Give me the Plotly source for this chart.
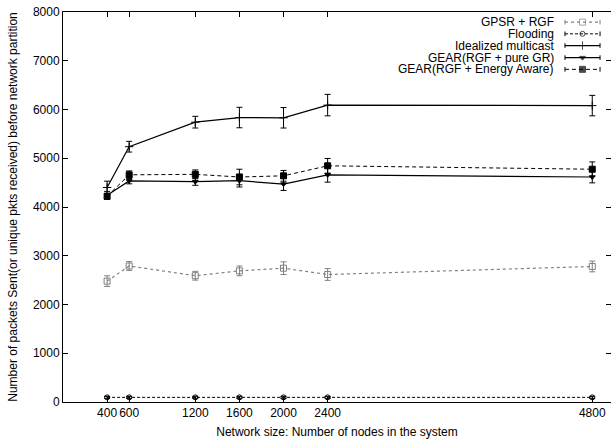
import plotly.graph_objects as go

nodes = [400, 600, 1200, 1600, 2000, 2400, 4800]

gpsr_rgf = [2480, 2790, 2590, 2690, 2745, 2615, 2780]
gpsr_rgf_err = [110, 90, 90, 100, 130, 120, 110]

flooding = [95, 95, 95, 95, 95, 95, 95]
flooding_err = [20, 20, 20, 20, 20, 20, 20]

idealized = [4400, 5237, 5740, 5835, 5830, 6090, 6080]
idealized_err = [130, 110, 120, 210, 210, 220, 210]

gear_pure = [4240, 4535, 4520, 4540, 4470, 4660, 4615]
gear_pure_err = [80, 60, 75, 130, 130, 150, 120]

gear_energy = [4220, 4660, 4670, 4615, 4640, 4845, 4775]
gear_energy_err = [60, 80, 90, 160, 110, 150, 150]

series_names = ["GPSR + RGF", "Flooding", "Idealized multicast",
                "GEAR(RGF + pure GR)", "GEAR(RGF + Energy Aware)"]

FONT = "Liberation Sans, Arial, sans-serif"
FS = 12

styles = [
    dict(color="#808080", dash="dot", symbol="square-open", size=6, width=1.2),
    dict(color="#000000", dash="3px,2px", symbol="circle-open", size=5, width=1),
    dict(color="#000000", dash="solid", symbol="cross-thin", size=6, width=1.2),
    dict(color="#000000", dash="solid", symbol="triangle-down", size=5, width=1.2),
    dict(color="#000000", dash="4px,3px", symbol="square", size=6, width=1),
]
values = [gpsr_rgf, flooding, idealized, gear_pure, gear_energy]
errors = [gpsr_rgf_err, flooding_err, idealized_err, gear_pure_err, gear_energy_err]

fig = go.Figure()

for name, vals, errs, st in zip(series_names, values, errors, styles):
    fig.add_trace(go.Scatter(
        x=nodes, y=vals, name=name, mode="lines+markers",
        line=dict(color=st["color"], dash=st["dash"], width=st["width"]),
        marker=dict(symbol=st["symbol"], size=st["size"], color=st["color"],
                    line=dict(color=st["color"], width=1)),
        error_y=dict(type="data", array=errs, visible=True,
                     color=st["color"], thickness=1, width=3),
        showlegend=False,
    ))

# gnuplot-style key: text right-aligned, sample to the right
key_rows = [0.974, 0.944, 0.914, 0.883, 0.853]
key_x = [0.916, 0.948, 0.980]
for name, st, ky in zip(series_names, styles, key_rows):
    fig.add_trace(go.Scatter(
        x=key_x, y=[ky, ky, ky], xaxis="x2", yaxis="y2", mode="lines+markers",
        line=dict(color=st["color"], dash=st["dash"], width=st["width"]),
        marker=dict(symbol=st["symbol"], size=[0, st["size"], 0], color=st["color"],
                    line=dict(color=st["color"], width=1)),
        error_y=dict(type="data", array=[0.006, 0, 0.006], visible=True,
                     color=st["color"], thickness=1, width=0),
        showlegend=False, hoverinfo="skip",
    ))
    fig.add_annotation(x=0.899, y=ky, xref="paper", yref="paper", text=name,
                       showarrow=False, xanchor="right", yanchor="middle",
                       font=dict(family=FONT, size=FS, color="black"))

fig.update_layout(
    width=611, height=442,
    margin=dict(l=63, r=0, t=12, b=40, autoexpand=False),
    paper_bgcolor="white", plot_bgcolor="white",
    font=dict(family=FONT, size=FS, color="black"),
    xaxis=dict(
        range=[0, 4970], tickvals=nodes, ticktext=[str(n) for n in nodes],
        tickangle=0,
        ticks="inside", ticklen=5, tickcolor="black", showgrid=False,
        zeroline=False, showline=True, linecolor="black", linewidth=1,
        mirror="ticks", automargin=False,
        title=dict(text="Network size: Number of nodes in the system",
                   font=dict(family=FONT, size=FS), standoff=8),
        tickfont=dict(family=FONT, size=FS),
    ),
    yaxis=dict(
        range=[0, 8000], dtick=1000, ticks="inside", ticklen=5, tickcolor="black",
        showgrid=False, zeroline=False, showline=True, linecolor="black",
        linewidth=1, mirror="ticks", automargin=False,
        title=dict(text="Number of packets Sent(or unique pkts received) before network partition",
                   font=dict(family=FONT, size=FS), standoff=12),
        tickfont=dict(family=FONT, size=FS),
    ),
    xaxis2=dict(range=[0, 1], overlaying="x", visible=False, domain=[0, 1]),
    yaxis2=dict(range=[0, 1], overlaying="y", visible=False),
)

fig.write_html("out.html", config={"displayModeBar": False},
               post_script="document.body.style.margin='0';document.body.style.overflow='hidden';")
